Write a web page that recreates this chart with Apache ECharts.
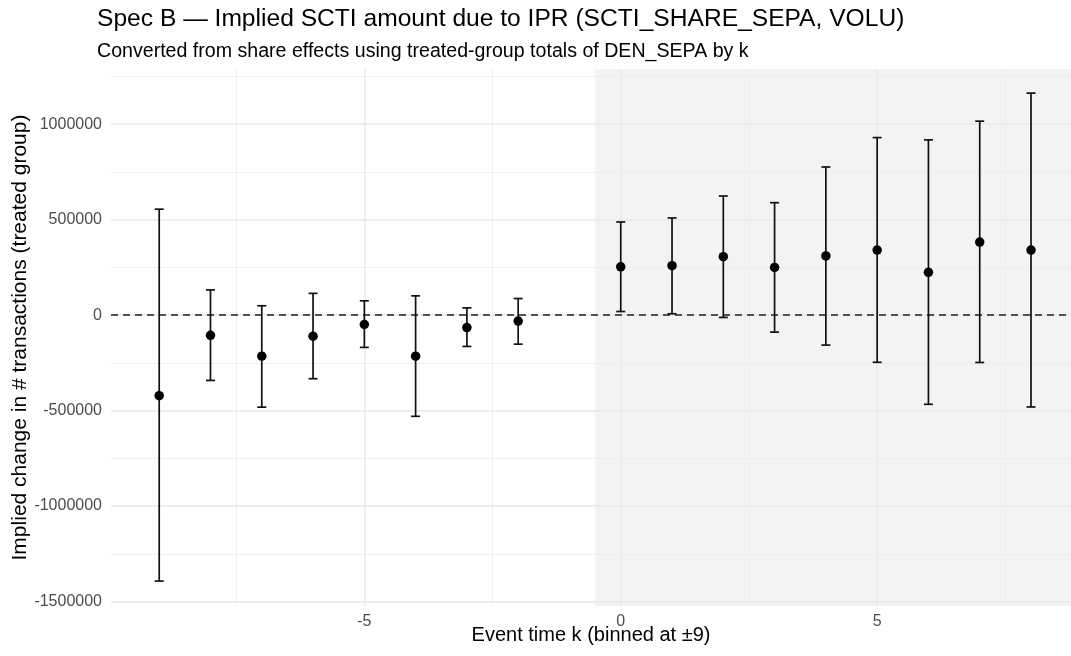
<!DOCTYPE html>
<html>
<head>
<meta charset="utf-8">
<title>Spec B event study</title>
<script src="https://cdn.jsdelivr.net/npm/echarts@6/dist/echarts.min.js"></script>
<style>
  html, body { margin: 0; padding: 0; background: #fff; }
  #main { width: 1071px; height: 656px; }
</style>
</head>
<body>
<div id="main"></div>
<script>
// event time (k = -1 is the reference period, not estimated)
const eventK = [-9, -8, -7, -6, -5, -4, -3, -2, 0, 1, 2, 3, 4, 5, 6, 7, 8];
// implied change in # transactions, point estimate
const estimate = [-422000, -106000, -215000, -110000, -49000, -215000, -65000, -31000,
  253000, 259000, 306000, 250000, 310000, 341000, 224000, 383000, 341000];
// lower / upper bound of the 95% interval
const ciLow = [-1393000, -342000, -482000, -333000, -169000, -530000, -164000, -152000,
  19000, 7000, -12000, -89000, -157000, -247000, -467000, -248000, -481000];
const ciHigh = [555000, 132000, 49000, 114000, 75000, 101000, 38000, 87000,
  488000, 509000, 624000, 589000, 776000, 930000, 918000, 1016000, 1163000];

// axis ticks and grid lines
const xMajor = [-5, 0, 5];
const xMinor = [-7.5, -2.5, 2.5, 7.5];
const yMajor = [-1500000, -1000000, -500000, 0, 500000, 1000000];
const yMinor = [-1250000, -750000, -250000, 250000, 750000, 1250000];
const postStart = -0.5;

// panel limits
const xMin = -9.94, xMax = 8.78;
const yMin = -1523600, yMax = 1289300;

const FONT = 'Liberation Sans, Arial, sans-serif';

let myChart = echarts.init(document.getElementById('main'));

let pointData = eventK.map((k, i) => [k, estimate[i]]);
let barData = eventK.map((k, i) => [k, ciLow[i], ciHigh[i]]);

let option = {
  backgroundColor: '#fff',
  animation: false,
  title: [
    {
      text: 'Spec B \u2014 Implied SCTI amount due to IPR (SCTI_SHARE_SEPA, VOLU)',
      left: 97, top: 7, padding: 0,
      textStyle: { fontFamily: FONT, fontSize: 24.6, fontWeight: 'normal', color: '#000' }
    },
    {
      text: 'Converted from share effects using treated-group totals of DEN_SEPA by k',
      left: 97, top: 42, padding: 0,
      textStyle: { fontFamily: FONT, fontSize: 19.6, fontWeight: 'normal', color: '#000' }
    }
  ],
  grid: { left: 111, right: 0, top: 69, bottom: 50, outerBoundsMode: 'none' },
  xAxis: {
    type: 'value',
    min: xMin,
    max: xMax,
    name: 'Event time k (binned at \u00b19)',
    nameLocation: 'middle',
    nameGap: 19,
    nameMoveOverlap: false,
    nameTextStyle: { fontFamily: FONT, fontSize: 20, color: '#000' },
    axisLine: { show: false },
    axisTick: { show: false },
    splitLine: { show: false },
    axisLabel: {
      customValues: xMajor,
      margin: 8,
      fontFamily: FONT, fontSize: 16, color: '#4d4d4d'
    }
  },
  yAxis: {
    type: 'value',
    min: yMin,
    max: yMax,
    name: 'Implied change in # transactions (treated group)',
    nameLocation: 'middle',
    nameRotate: 90,
    nameGap: 80,
    nameMoveOverlap: false,
    nameTextStyle: { fontFamily: FONT, fontSize: 21, color: '#000' },
    axisLine: { show: false },
    axisTick: { show: false },
    splitLine: { show: false },
    axisLabel: {
      customValues: yMajor,
      margin: 9,
      formatter: v => String(v),
      fontFamily: FONT, fontSize: 16, color: '#4d4d4d'
    }
  },
  series: [
    {
      // shaded post-treatment region
      type: 'line', data: [], z: 0, silent: true,
      markArea: {
        silent: true,
        itemStyle: { color: '#f3f3f3' },
        data: [[{ xAxis: postStart }, { xAxis: xMax }]]
      }
    },
    {
      // minor grid lines
      type: 'line', data: [], z: 1, silent: true,
      markLine: {
        silent: true, symbol: 'none', label: { show: false },
        lineStyle: { color: '#ebebeb', width: 0.8, type: 'solid' },
        data: xMinor.map(v => ({ xAxis: v })).concat(yMinor.map(v => ({ yAxis: v })))
      }
    },
    {
      // major grid lines
      type: 'line', data: [], z: 1, silent: true,
      markLine: {
        silent: true, symbol: 'none', label: { show: false },
        lineStyle: { color: '#e8e8e8', width: 1.5, type: 'solid' },
        data: xMajor.map(v => ({ xAxis: v })).concat(yMajor.map(v => ({ yAxis: v })))
      }
    },
    {
      // zero reference line
      type: 'line', data: [], z: 2, silent: true,
      markLine: {
        silent: true, symbol: 'none', label: { show: false },
        lineStyle: { color: '#222', width: 1.5, type: [7, 5] },
        data: [{ yAxis: 0 }]
      }
    },
    {
      // 95% intervals
      type: 'custom',
      z: 20,
      data: barData,
      renderItem: function (params, api) {
        let k = api.value(0);
        let top = api.coord([k, api.value(2)]);
        let bot = api.coord([k, api.value(1)]);
        let half = 4.5;
        let style = { stroke: '#111', lineWidth: 1.7 };
        return {
          type: 'group',
          children: [
            { type: 'line', shape: { x1: top[0], y1: top[1], x2: bot[0], y2: bot[1] }, style: style },
            { type: 'line', shape: { x1: top[0] - half, y1: top[1], x2: top[0] + half, y2: top[1] }, style: style },
            { type: 'line', shape: { x1: bot[0] - half, y1: bot[1], x2: bot[0] + half, y2: bot[1] }, style: style }
          ]
        };
      }
    },
    {
      type: 'scatter',
      z: 21,
      data: pointData,
      symbol: 'circle',
      symbolSize: 9.5,
      itemStyle: { color: '#000', opacity: 1 }
    }
  ]
};

myChart.setOption(option);
</script>
</body>
</html>
